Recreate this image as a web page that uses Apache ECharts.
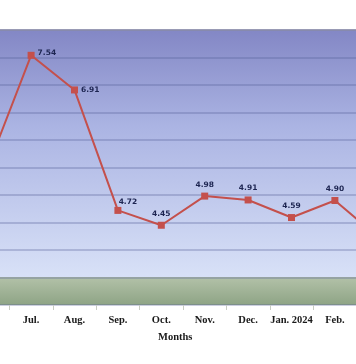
<!DOCTYPE html>
<html>
<head>
<meta charset="utf-8">
<script src="https://cdn.jsdelivr.net/npm/echarts@6/dist/echarts.min.js"></script>
<style>
html,body{margin:0;padding:0;background:#fff;overflow:hidden;width:356px;height:364px}
#c{position:absolute;left:-34px;top:0;width:434px;height:364px}
</style>
</head>
<body>
<div id="c"></div>
<script>
// Categories (Jun and Mar lie partly outside the visible crop)
var months = ['Jun.', 'Jul.', 'Aug.', 'Sep.', 'Oct.', 'Nov.', 'Dec.', 'Jan. 2024', 'Feb.', 'Mar.'];
var values = [5.50, 7.54, 6.91, 4.72, 4.45, 4.98, 4.91, 4.59, 4.90, 4.23];
var yTicks = {min: 3, max: 8, interval: 0.5};
var axisTitle = 'Months';

var chart = echarts.init(document.getElementById('c'), null, {renderer: 'canvas'});

var data = values.map(function (v, i) {
  var item = {value: v};
  if (i === 1) item.label = {position: 'right', distance: 3, offset: [0, -2]};
  if (i === 2) item.label = {position: 'right', distance: 3};
  if (i === 3) item.label = {position: 'top', offset: [10, 3]};
  return item;
});

chart.setOption({
  animation: false,
  grid: {
    left: 0, right: 0, top: 30, bottom: 59,
    show: true, borderWidth: 0,
    backgroundColor: new echarts.graphic.LinearGradient(0, 0, 0, 1, [
      {offset: 0, color: '#8387c5'},
      {offset: 0.35, color: '#abb4e3'},
      {offset: 0.9, color: '#d8e1f7'},
      {offset: 0.9, color: '#b2c1a8'},
      {offset: 1, color: '#8ea485'}
    ])
  },
  xAxis: {
    type: 'category',
    data: months,
    boundaryGap: true,
    axisLine: {show: false},
    axisTick: {show: true, length: 5, lineStyle: {color: '#c8ccc4', width: 1}},
    axisLabel: {
      margin: 10,
      fontFamily: 'Liberation Serif', fontWeight: 'bold', fontSize: 10.5, color: '#1a1a1a',
      interval: 0
    }
  },
  yAxis: {
    type: 'value',
    min: yTicks.min, max: yTicks.max, interval: yTicks.interval,
    axisLine: {show: false}, axisTick: {show: false}, axisLabel: {show: false},
    splitLine: {show: true, lineStyle: {color: 'rgba(85,95,150,0.4)', width: 1.5}}
  },
  graphic: [{
    type: 'text', left: 192, top: 332,
    style: {text: axisTitle, font: 'bold 10.5px "Liberation Serif"', fill: '#1a1a1a'}
  }, {
    type: 'rect', shape: {x: 0, y: 29, width: 434, height: 2},
    style: {fill: 'rgba(140,142,170,0.8)'}, z: 10
  }],
  series: [{
    type: 'line',
    data: data,
    symbol: 'rect',
    symbolSize: 7,
    lineStyle: {color: '#c4504c', width: 2},
    itemStyle: {color: '#c4504c'},
    label: {
      show: true, position: 'top', distance: 4,
      fontFamily: 'DejaVu Sans', fontWeight: 'bold', fontSize: 7.5, color: '#1c2450',
      formatter: function (p) { return p.value.toFixed(2); }
    }
  }]
});
</script>
</body>
</html>
